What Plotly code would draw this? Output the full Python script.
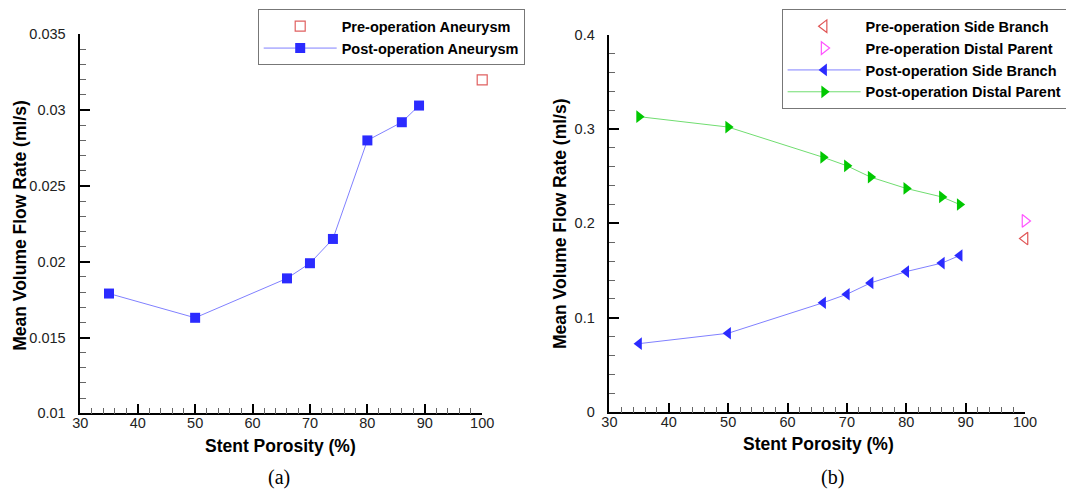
import plotly.graph_objects as go

# ---- data ----
porosity = [35, 50, 66, 70, 74, 80, 86, 89]
pre_x = [100]

post_aneurysm = [0.0179, 0.0163, 0.0189, 0.0199, 0.0215, 0.0280, 0.0292, 0.0303]
pre_aneurysm = [0.0320]

post_side_branch = [0.0727, 0.0837, 0.116, 0.125, 0.137, 0.149, 0.158, 0.166]
post_distal_parent = [0.313, 0.302, 0.270, 0.261, 0.249, 0.237, 0.228, 0.220]
pre_side_branch = [0.184]
pre_distal_parent = [0.2026]

x_ticks = [30, 40, 50, 60, 70, 80, 90, 100]
x_tick_text = ["30", "40", "50", "60", "70", "80", "90", "100"]
ya_ticks = [0.01, 0.015, 0.02, 0.025, 0.03, 0.035]
ya_tick_text = ["0.01", "0.015", "0.02", "0.025", "0.03", "0.035"]
yb_ticks = [0, 0.1, 0.2, 0.3, 0.4]
yb_tick_text = ["0", "0.1", "0.2", "0.3", "0.4"]

FONT = "Liberation Sans, Arial, sans-serif"
W, H = 1066, 495

fig = go.Figure()

# panel (a)
fig.add_trace(go.Scatter(
    x=pre_x, y=pre_aneurysm, mode="markers", name="Pre-operation Aneurysm",
    marker=dict(symbol="square-open", size=10, color="#e06060", line=dict(width=1.2)),
    xaxis="x", yaxis="y", legend="legend", cliponaxis=False))
fig.add_trace(go.Scatter(
    x=porosity, y=post_aneurysm, mode="lines+markers", name="Post-operation Aneurysm",
    line=dict(color="#8080ff", width=1),
    marker=dict(symbol="square", size=10, color="#2b2bff"),
    xaxis="x", yaxis="y", legend="legend", cliponaxis=False))

# panel (b)
fig.add_trace(go.Scatter(
    x=pre_x, y=pre_side_branch, mode="markers", name="Pre-operation Side Branch",
    marker=dict(symbol="triangle-left-open", size=11, color="#e05555", line=dict(width=1.2)),
    xaxis="x2", yaxis="y2", legend="legend2", cliponaxis=False))
fig.add_trace(go.Scatter(
    x=pre_x, y=pre_distal_parent, mode="markers", name="Pre-operation Distal Parent",
    marker=dict(symbol="triangle-right-open", size=11, color="#ff55ff", line=dict(width=1.2)),
    xaxis="x2", yaxis="y2", legend="legend2", cliponaxis=False))
fig.add_trace(go.Scatter(
    x=porosity, y=post_side_branch, mode="lines+markers", name="Post-operation Side Branch",
    line=dict(color="#8080ff", width=1),
    marker=dict(symbol="triangle-left", size=11, color="#2b2bff"),
    xaxis="x2", yaxis="y2", legend="legend2", cliponaxis=False))
fig.add_trace(go.Scatter(
    x=porosity, y=post_distal_parent, mode="lines+markers", name="Post-operation Distal Parent",
    line=dict(color="#70dd70", width=1),
    marker=dict(symbol="triangle-right", size=11, color="#00c800"),
    xaxis="x2", yaxis="y2", legend="legend2", cliponaxis=False))

def xaxis_cfg(domain, anchor):
    return dict(domain=domain, anchor=anchor, range=[30, 100], showgrid=False, zeroline=False,
                showline=True, linecolor="black", linewidth=1.5, mirror=False,
                ticks="inside", ticklen=10, tickwidth=1.5, tickcolor="black",
                tickvals=x_ticks, ticktext=x_tick_text, ticklabelstandoff=-4,
                tickfont=dict(family=FONT, size=14.5, color="#222"),
                minor=dict(dtick=2, tick0=30, ticks="inside", ticklen=6, tickwidth=1, tickcolor="#666"))

def yaxis_cfg(domain, anchor, rng, vals, text, minor_dtick):
    return dict(domain=domain, anchor=anchor, range=rng, showgrid=False, zeroline=False,
                showline=True, linecolor="black", linewidth=1.5, mirror=False,
                ticks="inside", ticklen=10, tickwidth=1.5, tickcolor="black",
                tickvals=vals, ticktext=text, ticklabelstandoff=10,
                tickfont=dict(family=FONT, size=14.5, color="#222"),
                minor=dict(dtick=minor_dtick, tick0=rng[0], ticks="inside", ticklen=6, tickwidth=1, tickcolor="#666"))

xa = (80.3 / W, 482.2 / W)
xb = (609.4 / W, 1025.0 / W)
ya = (1 - 413.3 / H, 1 - 34.3 / H)
yb = (1 - 412.3 / H, 1 - 34.5 / H)

legend_common = dict(
    xanchor="left", yanchor="top", bgcolor="white", bordercolor="#777", borderwidth=1,
    font=dict(family=FONT, size=14.5, color="black", weight="bold"),
    itemwidth=73, tracegroupgap=0, itemclick=False)

fig.update_layout(
    autosize=True,
    margin=dict(l=0, r=0, t=0, b=0, autoexpand=False),
    paper_bgcolor="white", plot_bgcolor="white",
    showlegend=True,
    xaxis=xaxis_cfg(xa, "y"),
    yaxis=yaxis_cfg(ya, "x", [0.01, 0.035], ya_ticks, ya_tick_text, 0.001),
    xaxis2=xaxis_cfg(xb, "y2"),
    yaxis2=yaxis_cfg(yb, "x2", [0, 0.4], yb_ticks, yb_tick_text, 0.02),
    legend=dict(x=257.7 / W, y=1 - 9.3 / H, **legend_common),
    legend2=dict(x=781.6 / W, y=1 - 9.3 / H, **legend_common),
)

title_font = dict(family=FONT, size=17.5, color="black", weight="bold")
ann = [
    dict(text="Stent Porosity (%)", x=280 / W, y=1 - 446 / H),
    dict(text="Stent Porosity (%)", x=818 / W, y=1 - 444 / H),
    dict(text="Mean Volume Flow Rate (ml/s)", x=19.8 / W, y=1 - 225 / H, textangle=-90),
    dict(text="Mean Volume Flow Rate (ml/s)", x=560 / W, y=1 - 224 / H, textangle=-90),
]
for a in ann:
    fig.add_annotation(xref="paper", yref="paper", showarrow=False,
                       xanchor="center", yanchor="middle", font=title_font, **a)

cap_font = dict(family="Liberation Serif, Times New Roman, serif", size=20, color="black")
fig.add_annotation(text="(a)", x=279 / W, y=1 - 477 / H, xref="paper", yref="paper",
                   showarrow=False, xanchor="center", yanchor="middle", font=cap_font)
fig.add_annotation(text="(b)", x=832 / W, y=1 - 477 / H, xref="paper", yref="paper",
                   showarrow=False, xanchor="center", yanchor="middle", font=cap_font)

fig.write_html(
    "out.html",
    default_width="100vw",
    default_height="100vh",
    config={"displayModeBar": False, "responsive": True},
    post_script="document.body.style.margin='0';document.body.style.overflow='hidden';"
                "window.dispatchEvent(new Event('resize'));",
)
